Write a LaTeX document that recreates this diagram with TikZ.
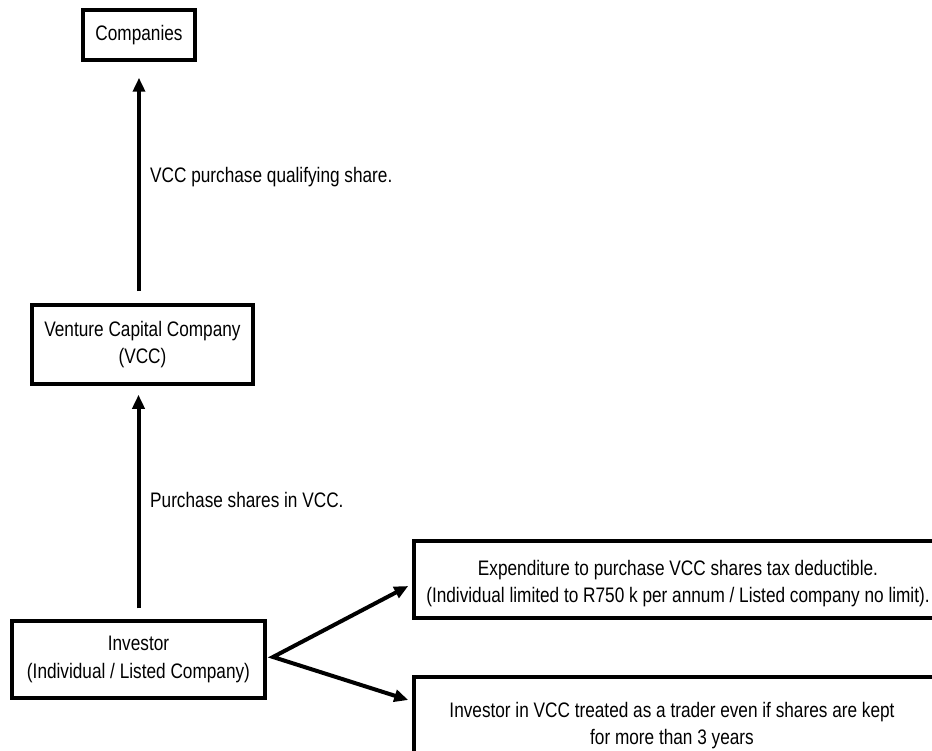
\documentclass[tikz,border=0pt]{standalone}
\usepackage{fontspec}
\setmainfont{Liberation Sans}[FakeStretch=0.82]
\usetikzlibrary{arrows.meta,calc}
\begin{document}
\begin{tikzpicture}[x=1pt,y=-1pt,
  txt/.style={font=\fontsize{21}{27.5}\selectfont, align=center, inner sep=0pt},
  box/.style={txt, draw, line width=3.5pt},
  headtip/.tip={Triangle[length=14pt,width=12pt]},
  link/.style={line width=4pt, -{headtip}},
]
\useasboundingbox (0,0) rectangle (932,751);

% boxes
\node[box, minimum width=112pt, minimum height=50pt] (comp) at (139,35) {Companies};
\node[box, minimum width=221pt, minimum height=79pt] (vcc) at (142.5,344.5)
  {Venture Capital Company\\(VCC)};
\node[box, minimum width=253pt, minimum height=77pt] (inv) at (138.5,659.5)
  {Investor\\(Individual / Listed Company)};
\node[box, minimum width=528pt, minimum height=77pt] (exp) at (678,579.5) {};
\node[box, minimum width=536pt, minimum height=100pt] (trad) at (682,727) {};

% texts of the two wide boxes
\node[txt] (exptext) at (678,583.5)
  {Expenditure to purchase VCC shares tax deductible.\\(Individual limited to R750 k per annum / Listed company no limit).};
\node[txt] (tradtext) at (672,725.5)
  {Investor in VCC treated as a trader even if shares are kept\\for more than 3 years};

% vertical flows
\draw[link, shorten <=11pt, shorten >=9pt] (inv.north) -- (inv.north |- vcc.south);
\draw[link, shorten <=12pt, shorten >=16pt] (comp.south |- vcc.north) -- (comp.south);

\node[txt, anchor=base west] (lab1) at (150,183) {VCC purchase qualifying share.};
\node[txt, anchor=base west] (lab2) at (150,507) {Purchase shares in VCC.};

% fork from the investor to the two consequences
\coordinate (fork) at (273,657);
\draw[line width=4pt, line join=miter, {headtip}-{headtip}]
  ([xshift=-4pt,yshift=-6.5pt]exp.west) -- (fork) -- ([xshift=-4pt,yshift=27pt]trad.west);
\end{tikzpicture}
\end{document}
